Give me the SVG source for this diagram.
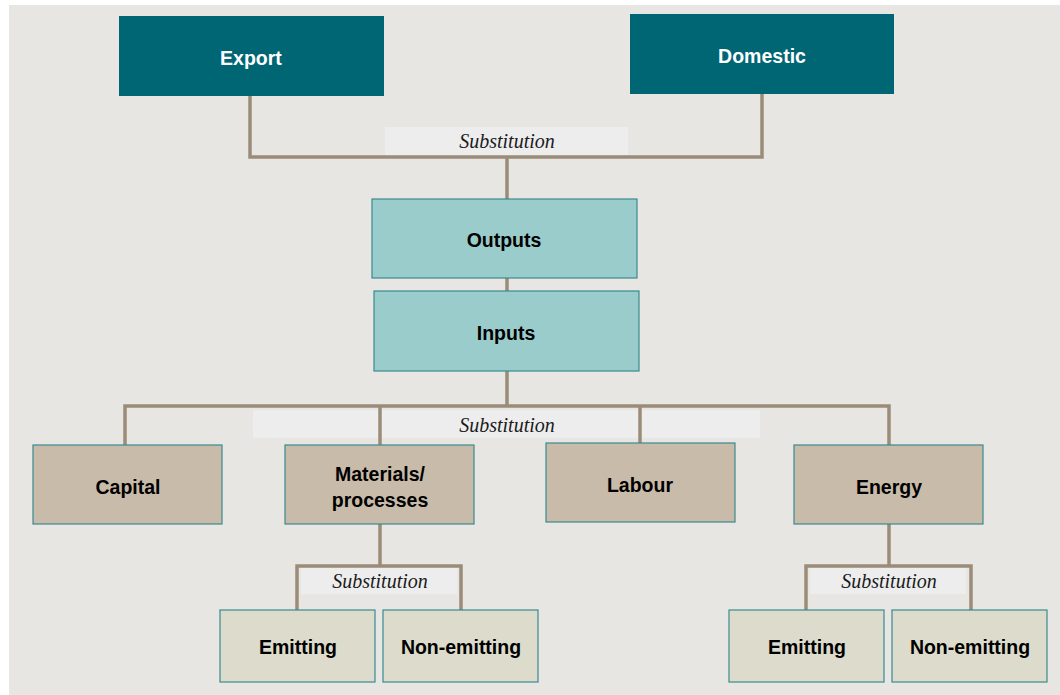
<svg xmlns="http://www.w3.org/2000/svg" width="1060" height="695" viewBox="0 0 1060 695">
<style>
.lbl{font-family:"Liberation Sans",Arial,sans-serif;font-weight:bold;font-size:19.5px;text-anchor:middle;fill:#000}
.wt{fill:#ffffff}
.sub{font-family:"Liberation Serif","Times New Roman",serif;font-style:italic;font-size:20px;text-anchor:middle;fill:#1a1a1a}
.dark{fill:#006674}
.teal{fill:#9acccc;stroke:#3a8a90;stroke-width:1.2}
.tan{fill:#c9bba9;stroke:#3a8a90;stroke-width:1.2}
.pale{fill:#dddccc;stroke:#3a8a90;stroke-width:1.2}
.subbox{fill:#ededed}
.con{fill:none;stroke:#9a8c78;stroke-width:3.5}
</style>
<rect x="9" y="5" width="1051" height="690" fill="#e8e6e2"/>
<rect class="subbox" x="385" y="127" width="243" height="28"/>
<rect class="subbox" x="253" y="410" width="507" height="28"/>
<rect class="subbox" x="301" y="568" width="156" height="26"/>
<rect class="subbox" x="810" y="568" width="156" height="26"/>
<g id="connectors">
<path class="con" d="M250 96 V157 H762 V94"/>
<path class="con" d="M507 157 V199"/>
<path class="con" d="M507 278 V291"/>
<path class="con" d="M507 371 V406"/>
<path class="con" d="M125 445 V406 H889 V445"/>
<path class="con" d="M380 406 V445"/>
<path class="con" d="M640 406 V443"/>
<path class="con" d="M380 524 V566"/>
<path class="con" d="M297 610 V566 H461 V610"/>
<path class="con" d="M889 524 V566"/>
<path class="con" d="M806 610 V566 H971 V610"/>
</g>
<text class="sub" x="507" y="148">Substitution</text>
<text class="sub" x="507" y="432">Substitution</text>
<text class="sub" x="380" y="588">Substitution</text>
<text class="sub" x="889" y="588">Substitution</text>
<g id="export"><rect class="dark" x="119" y="16" width="265" height="80"/><text class="lbl wt" x="251" y="65">Export</text></g>
<g id="domestic"><rect class="dark" x="630" y="14" width="264" height="80"/><text class="lbl wt" x="762" y="63">Domestic</text></g>
<g id="outputs"><rect class="teal" x="372" y="199" width="265" height="79"/><text class="lbl" x="504" y="247">Outputs</text></g>
<g id="inputs"><rect class="teal" x="374" y="291" width="265" height="80"/><text class="lbl" x="506" y="340">Inputs</text></g>
<g id="capital"><rect class="tan" x="33" y="445" width="189" height="79"/><text class="lbl" x="128" y="494">Capital</text></g>
<g id="materials"><rect class="tan" x="285" y="445" width="189" height="79"/><text class="lbl" x="380" y="481">Materials/</text><text class="lbl" x="380" y="507">processes</text></g>
<g id="labour"><rect class="tan" x="546" y="443" width="189" height="79"/><text class="lbl" x="640" y="492">Labour</text></g>
<g id="energy"><rect class="tan" x="794" y="445" width="189" height="79"/><text class="lbl" x="889" y="494">Energy</text></g>
<g id="emitting1"><rect class="pale" x="220" y="610" width="155" height="72"/><text class="lbl" x="298" y="654">Emitting</text></g>
<g id="nonemitting1"><rect class="pale" x="383" y="610" width="155" height="72"/><text class="lbl" x="461" y="654">Non-emitting</text></g>
<g id="emitting2"><rect class="pale" x="729" y="610" width="155" height="72"/><text class="lbl" x="807" y="654">Emitting</text></g>
<g id="nonemitting2"><rect class="pale" x="892" y="610" width="155" height="72"/><text class="lbl" x="970" y="654">Non-emitting</text></g>
</svg>
